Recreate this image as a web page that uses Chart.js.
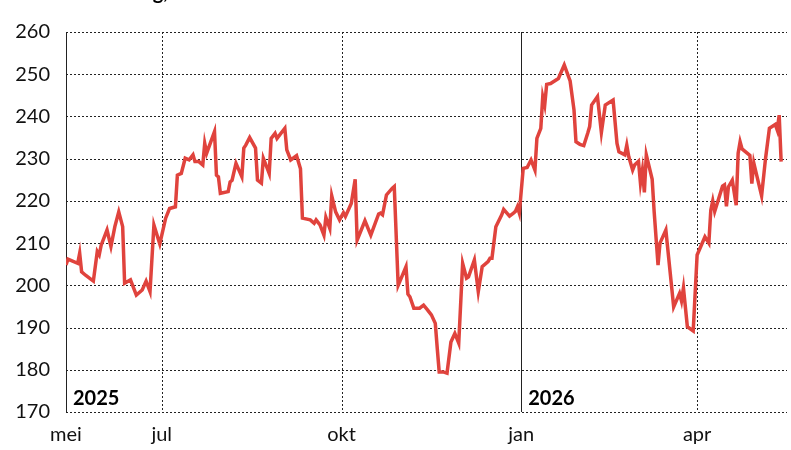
<!DOCTYPE html>
<html>
<head>
<meta charset="utf-8">
<script src="https://cdn.jsdelivr.net/npm/chart.js@4"></script>
<style>
  html, body { margin: 0; padding: 0; background: #fff; }
  #wrap { width: 791px; height: 450px; }
</style>
</head>
<body>
<div id="wrap"><canvas id="koersChart"></canvas></div>
<script>
const days = [0, 1, 6, 7, 8, 10, 14, 16, 17, 18, 21, 23, 25, 27, 29, 30, 33, 36, 39, 41, 43, 45, 48, 51, 53, 56, 57, 59, 61, 63, 65, 66, 68, 70, 71, 72, 76, 77, 78, 79, 83, 84, 85, 87, 90, 91, 92, 94, 97, 98, 100, 101, 104, 105, 107, 108, 112, 113, 115, 118, 120, 121, 125, 127, 128, 130, 132, 133, 135, 136, 138, 140, 142, 143, 146, 148, 149, 153, 156, 160, 161, 162, 164, 167, 168, 170, 174, 175, 176, 178, 181, 183, 185, 187, 189, 190, 191, 193, 195, 197, 199, 201, 203, 205, 206, 209, 211, 213, 216, 217, 218, 220, 223, 224, 227, 229, 230, 231, 232, 234, 236, 238, 240, 241, 243, 244, 245, 246, 248, 252, 255, 258, 260, 261, 263, 265, 267, 268, 269, 272, 274, 276, 280, 282, 283, 286, 287, 288, 290, 291, 293, 294, 295, 296, 297, 300, 301, 303, 304, 307, 311, 314, 315, 316, 318, 321, 323, 327, 329, 330, 331, 332, 336, 337, 338, 339, 341, 343, 344, 345, 346, 350, 351, 352, 356, 358, 360, 363, 364, 365, 366];
const prices = [204.8, 206.2, 205.2, 207.6, 203.2, 202.4, 201, 208, 207.2, 209.5, 213.1, 209.2, 213.9, 217.4, 213.9, 200.5, 201.3, 197.7, 198.9, 201, 198.5, 214.3, 209.8, 215.9, 218.2, 218.6, 226.1, 226.5, 230.1, 229.7, 230.9, 229.3, 229.3, 228.5, 233.6, 231.3, 236.4, 226.1, 225.7, 221.8, 222.2, 224.5, 224.9, 228.9, 225.7, 232.5, 233.2, 235, 232.5, 224.9, 224.2, 230.1, 226.5, 234.8, 236, 234.8, 237.2, 232.1, 229.7, 230.7, 227.6, 215.9, 215.5, 214.7, 215.5, 214.3, 211.9, 216.1, 213.5, 221.2, 217.4, 215.5, 217.2, 216.3, 219.4, 225.1, 210.7, 215.3, 211.9, 216.9, 217.1, 216.7, 221.4, 223, 223.4, 200, 204.4, 197.9, 197.3, 194.6, 194.6, 195.3, 194.2, 193, 191, 185.1, 179.5, 179.5, 179.2, 186.6, 188.6, 186.3, 205.2, 201.7, 202, 206, 198.5, 204.4, 205.6, 206.4, 206.4, 213.9, 216.7, 218, 216.4, 217.1, 217.5, 218.6, 217.1, 227.7, 227.9, 229.7, 227.3, 234.8, 237.2, 244.7, 242.7, 247.6, 247.8, 249, 252.2, 248.4, 241.5, 234, 233.4, 233.1, 236, 237.6, 242.7, 244.7, 236.2, 242.7, 243.9, 233.6, 231.6, 230.9, 233.2, 230.5, 227.3, 228.5, 229.4, 224.2, 227.3, 222, 230.9, 225.1, 217.5, 204.8, 210, 213.1, 194.9, 198.1, 196.3, 199.4, 190.2, 189.2, 207.2, 211.5, 210, 217.8, 220, 217.5, 223.5, 223.8, 218.7, 223.3, 224.9, 219, 231.3, 234, 232.3, 230.8, 224.1, 229, 221.2, 230, 237.2, 238.1, 236.8, 240.3, 229.3];

const monthTickDays = [0, 49, 141, 233, 323];
const monthTickLabels = ['mei', 'jul', 'okt', 'jan', 'apr'];
const solidGridDays = [233];
const yearLabels = ['2025', '2026'];
const yearLabelDays = [0, 233];
const yMin = 170, yMax = 260, yStep = 10;
const lastDay = 369;

const fontFamily = 'Lato, "Open Sans", sans-serif';

// dotted grid, solid year line and left axis, year labels
const gridPlugin = {
    id: 'koersGrid',
    beforeDatasetsDraw(chart) {
        const { ctx, chartArea: a, scales: { x, y } } = chart;
        ctx.save();
        ctx.lineWidth = 1;
        ctx.strokeStyle = '#222';
        ctx.setLineDash([2, 2]);
        y.ticks.forEach(t => {
            const py = Math.round(y.getPixelForValue(t.value)) + 0.5;
            ctx.beginPath();
            ctx.moveTo(a.left, py);
            ctx.lineTo(a.right, py);
            ctx.stroke();
        });
        monthTickDays.forEach(d => {
            if (d === monthTickDays[0]) return;
            ctx.setLineDash(solidGridDays.includes(d) ? [] : [2, 2]);
            const px = Math.round(x.getPixelForValue(d)) + 0.5;
            ctx.beginPath();
            ctx.moveTo(px, a.top);
            ctx.lineTo(px, a.bottom);
            ctx.stroke();
        });
        ctx.setLineDash([]);
        const lx = Math.round(a.left) + 0.5;
        ctx.beginPath();
        ctx.moveTo(lx, a.top);
        ctx.lineTo(lx, a.bottom);
        ctx.stroke();
        ctx.restore();
    },
    afterDraw(chart) {
        const { ctx, chartArea: a, scales: { x } } = chart;
        ctx.save();
        ctx.fillStyle = '#000';
        ctx.font = 'bold 20px ' + fontFamily;
        ctx.textAlign = 'left';
        ctx.textBaseline = 'alphabetic';
        yearLabels.forEach((lbl, i) => {
            ctx.fillText(lbl, x.getPixelForValue(yearLabelDays[i]) + 7, a.bottom - 7);
        });
        // bottom of the cut-off title line
        ctx.textAlign = 'right';
        ctx.fillText('g,', 168, -1);
        ctx.restore();
    }
};

new Chart(document.getElementById('koersChart'), {
    type: 'line',
    data: {
        datasets: [{
            data: days.map((d, i) => ({ x: d, y: prices[i] })),
            borderColor: '#e0433d',
            borderWidth: 3.5,
            pointRadius: 0,
            tension: 0,
            fill: false
        }]
    },
    options: {
        responsive: true,
        maintainAspectRatio: false,
        animation: false,
        layout: { padding: { top: 32, right: 4, left: 0, bottom: 0 } },
        plugins: {
            legend: { display: false },
            tooltip: { enabled: false }
        },
        scales: {
            x: {
                type: 'linear',
                min: 0,
                max: lastDay,
                grid: { display: false },
                border: { display: false },
                afterBuildTicks: scale => {
                    scale.ticks = monthTickDays.map(v => ({ value: v }));
                },
                afterFit: scale => { scale.height = 38; },
                ticks: {
                    autoSkip: false,
                    maxRotation: 0,
                    padding: 3,
                    color: '#111',
                    font: { family: fontFamily, size: 20 },
                    callback: v => monthTickLabels[monthTickDays.indexOf(v)] || ''
                }
            },
            y: {
                min: yMin,
                max: yMax,
                grid: { display: false },
                border: { display: false },
                afterFit: scale => { scale.width = 66; },
                ticks: {
                    stepSize: yStep,
                    padding: 8,
                    color: '#111',
                    font: { family: fontFamily, size: 20 }
                }
            }
        }
    },
    plugins: [gridPlugin]
});
</script>
</body>
</html>
